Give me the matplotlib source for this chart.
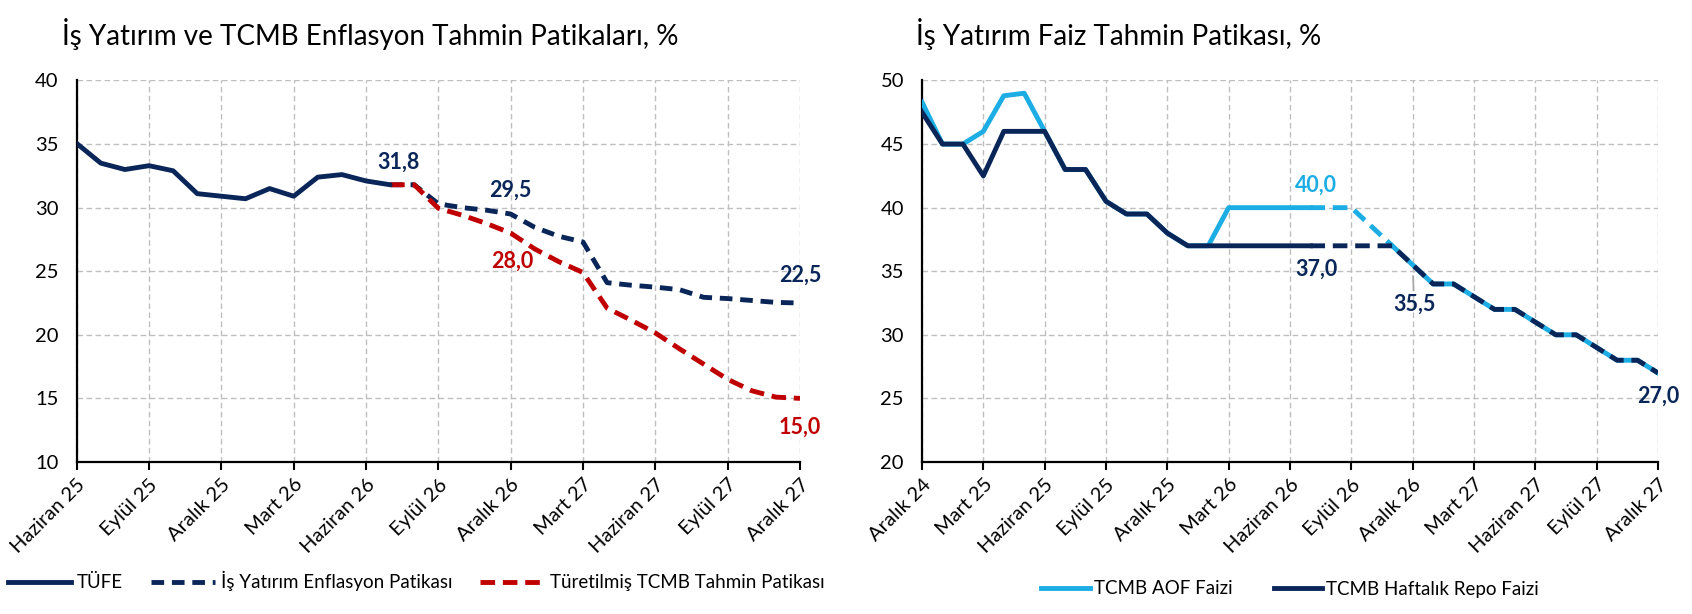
import matplotlib
matplotlib.use('Agg')
import matplotlib.pyplot as plt
from matplotlib.lines import Line2D

plt.rcParams['font.family'] = ['Lato', 'DejaVu Sans']

NAVY = '#0A2659'
RED = '#C00000'
LIGHT = '#1CADE4'
GRID = '#BFBFBF'

# --- sol grafik: aylık, Haziran 25 - Aralık 27 ---
left_ticks = ['Haziran 25', 'Eylül 25', 'Aralık 25', 'Mart 26', 'Haziran 26', 'Eylül 26',
              'Aralık 26', 'Mart 27', 'Haziran 27', 'Eylül 27', 'Aralık 27']
tufe = [35.05, 33.5, 33.0, 33.3, 32.9, 31.1, 30.9, 30.7, 31.5, 30.9, 32.4, 32.6, 32.1, 31.8]
# tahminler TÜFE'nin son ayından başlıyor
is_yatirim = [31.8, 31.8, 30.3, 30.0, 29.8, 29.5, 28.45, 27.75, 27.3, 24.1, 23.9, 23.75,
              23.55, 22.95, 22.85, 22.7, 22.55, 22.5]
tcmb_turetilmis = [31.8, 31.8, 29.95, 29.4, 28.75, 28.0, 26.75, 25.75, 24.9, 22.1, 21.15,
                   20.15, 18.9, 17.7, 16.5, 15.6, 15.1, 15.0]

# --- sağ grafik: aylık, Aralık 24 - Aralık 27 ---
right_ticks = ['Aralık 24', 'Mart 25', 'Haziran 25', 'Eylül 25', 'Aralık 25', 'Mart 26',
               'Haziran 26', 'Eylül 26', 'Aralık 26', 'Mart 27', 'Haziran 27', 'Eylül 27',
               'Aralık 27']
aof = [48.3, 45.0, 45.0, 46.0, 48.8, 49.0, 46.0, 43.0, 43.0, 40.5, 39.5, 39.5, 38.0, 37.0,
       37.0, 40.0, 40.0, 40.0, 40.0, 40.0, 40.0, 40.0, 38.5, 37.0, 35.5, 34.0, 34.0, 33.0,
       32.0, 32.0, 31.0, 30.0, 30.0, 29.0, 28.0, 28.0, 27.0]
repo = [47.5, 45.0, 45.0, 42.5, 46.0, 46.0, 46.0, 43.0, 43.0, 40.5, 39.5, 39.5, 38.0, 37.0,
        37.0, 37.0, 37.0, 37.0, 37.0, 37.0, 37.0, 37.0, 37.0, 37.0, 35.5, 34.0, 34.0, 33.0,
        32.0, 32.0, 31.0, 30.0, 30.0, 29.0, 28.0, 28.0, 27.0]
last_actual = 19   # Temmuz 26, sonrası tahmin (kesikli)
merge_at = 23      # iki seri burada birleşiyor


def style_axis(ax, ticks, ymin, ymax):
    n = (len(ticks) - 1) * 3
    ax.set_xlim(0, n)
    ax.set_ylim(ymin, ymax)
    ax.set_xticks(range(0, n + 1, 3))
    ax.set_xticklabels(ticks, rotation=45, ha='right', va='top', rotation_mode='anchor')
    ax.set_yticks(range(ymin, ymax + 1, 5))
    ax.grid(True, color=GRID, linestyle=(0, (4, 2.5)), linewidth=1.0)
    ax.set_axisbelow(True)
    for s in ['top', 'right']:
        ax.spines[s].set_visible(False)
    for s in ['left', 'bottom']:
        ax.spines[s].set_linewidth(1.6)
        ax.spines[s].set_color('black')
    ax.tick_params(axis='x', length=6, width=1.5, direction='out', labelsize=14.5, pad=4)
    ax.tick_params(axis='y', length=0, labelsize=14.5, pad=13)


fig = plt.figure(figsize=(16.92, 6.14), dpi=100)
ax1 = fig.add_axes([0.04533, 0.2476, 0.42748, 0.6213])
ax2 = fig.add_axes([0.54492, 0.2476, 0.43499, 0.6213])

# ---------- sol ----------
style_axis(ax1, left_ticks, 10, 40)
f0 = len(tufe) - 1
x_tufe = list(range(len(tufe)))
x_fc = list(range(f0, f0 + len(is_yatirim)))
ax1.plot(x_fc, is_yatirim, color=NAVY, lw=3.5, dashes=(2.6, 1.6), zorder=3)
ax1.plot(x_fc, tcmb_turetilmis, color=RED, lw=3.5, dashes=(3, 1.6), zorder=3)
ax1.plot(x_tufe, tufe, color=NAVY, lw=3.5, solid_capstyle='round', zorder=4)

lab = dict(textcoords='offset points', ha='center', va='center', fontsize=15.5,
           fontweight='bold', annotation_clip=False)
ax1.annotate('31,8', (f0, tufe[-1]), xytext=(6, 16), color=NAVY, **lab)
i = is_yatirim.index(29.5)
ax1.annotate('29,5', (x_fc[i], is_yatirim[i]), xytext=(0, 17), color=NAVY, **lab)
i = tcmb_turetilmis.index(28.0)
ax1.annotate('28,0', (x_fc[i], tcmb_turetilmis[i]), xytext=(1, -20), color=RED, **lab)
ax1.annotate('22,5', (x_fc[-1], is_yatirim[-1]), xytext=(0, 20), color=NAVY, **lab)
ax1.annotate('15,0', (x_fc[-1], tcmb_turetilmis[-1]), xytext=(0, -21), color=RED, **lab)

# ---------- sağ ----------
style_axis(ax2, right_ticks, 20, 50)
xr = list(range(len(aof)))
ax2.plot(xr[:last_actual + 1], aof[:last_actual + 1], color=LIGHT, lw=3.5, zorder=3)
ax2.plot(xr[:last_actual + 1], repo[:last_actual + 1], color=NAVY, lw=3.5, zorder=4)
ax2.plot(xr[last_actual:merge_at + 1], aof[last_actual:merge_at + 1], color=LIGHT, lw=3.5,
         dashes=(3, 1.6), zorder=3)
ax2.plot(xr[merge_at:], aof[merge_at:], color=LIGHT, lw=3.5, zorder=3)
ax2.plot(xr[last_actual:], repo[last_actual:], color=NAVY, lw=3.5, dashes=(3, 1.6), zorder=4)

ax2.annotate('40,0', (last_actual, aof[last_actual]), xytext=(4, 16), color=LIGHT, **lab)
ax2.annotate('37,0', (last_actual, repo[last_actual]), xytext=(4, -17), color=NAVY, **lab)
ax2.annotate('35,5', (24, repo[24]), xytext=(1, -28), color=NAVY, zorder=5,
             arrowprops=dict(arrowstyle='-', color='#A6A6A6', lw=1.2, shrinkA=0, shrinkB=8),
             **lab)
ax2.annotate('27,0', (xr[-1], repo[-1]), xytext=(0, -17), color=NAVY, **lab)

# ---------- başlıklar ----------
fig.text(62 / 1692, 1 - 34 / 614, 'İş Yatırım ve TCMB Enflasyon Tahmin Patikaları, %',
         fontsize=20, va='center', ha='left')
fig.text(916 / 1692, 1 - 34 / 614, 'İş Yatırım Faiz Tahmin Patikası, %',
         fontsize=20, va='center', ha='left')

# ---------- lejantlar ----------
h_left = [Line2D([], [], color=NAVY, lw=3.5),
          Line2D([], [], color=NAVY, lw=3.5, dashes=(2.6, 1.6)),
          Line2D([], [], color=RED, lw=3.5, dashes=(3, 1.6))]
fig.legend(h_left, ['TÜFE', 'İş Yatırım Enflasyon Patikası', 'Türetilmiş TCMB Tahmin Patikası'],
           loc='center', bbox_to_anchor=(416 / 1692, 1 - 581 / 614), ncol=3, frameon=False,
           fontsize=13.5, handlelength=3.4, handletextpad=0.3, columnspacing=1.5)
h_right = [Line2D([], [], color=LIGHT, lw=3.5), Line2D([], [], color=NAVY, lw=3.5)]
fig.legend(h_right, ['TCMB AOF Faizi', 'TCMB Haftalık Repo Faizi'],
           loc='center', bbox_to_anchor=(1290 / 1692, 1 - 589 / 614), ncol=2, frameon=False,
           fontsize=13.5, handlelength=2.6, handletextpad=0.2, columnspacing=2.2)

fig.savefig('out.png', dpi=100)
